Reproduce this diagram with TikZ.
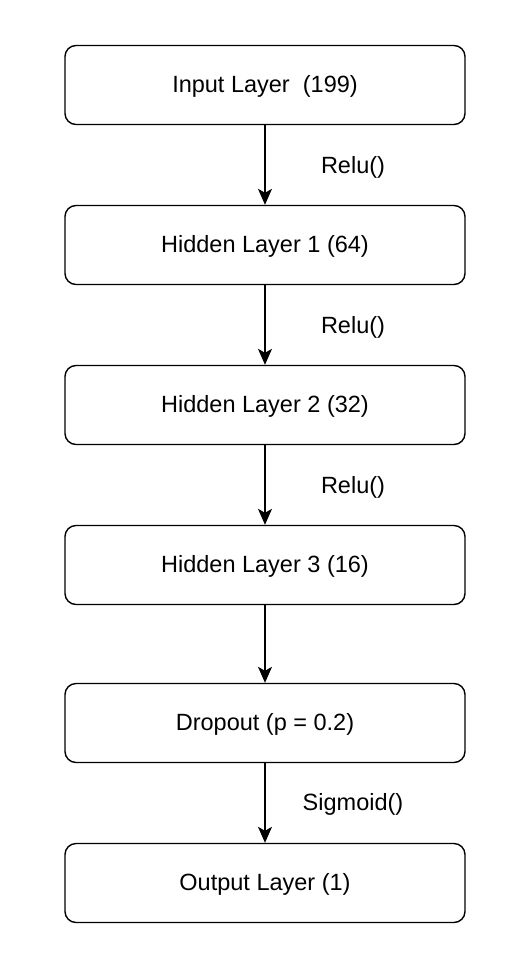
\documentclass[tikz,border=0pt]{standalone}
\usepackage{fontspec}
\setmainfont{Liberation Sans}
\usetikzlibrary{arrows.meta}
\begin{document}
\begin{tikzpicture}[x=1pt,y=-1pt,
  layerbox/.style={draw=black, line width=1.4pt, rounded corners=11pt, minimum width=400pt, minimum height=79pt, inner sep=0pt, fill=white},
  txt/.style={font=\fontsize{23.5}{28}\selectfont, inner sep=0pt},
  flow/.style={draw=black, line width=1.4pt, -{Stealth[length=16pt, width=14pt, inset=4pt]}},
  actlabel/.style={font=\fontsize{23.5}{28}\selectfont, inner sep=0pt}]
\useasboundingbox[fill=white] (0,0) rectangle (530,970);
\node[layerbox] (in) at (265,85) {};
\node[layerbox] (h1) at (265,245) {};
\node[layerbox] (h2) at (265,405) {};
\node[layerbox] (h3) at (265,565) {};
\node[layerbox] (dr) at (265,723) {};
\node[layerbox] (out) at (265,883) {};
\node[txt] (tin) at (265,86) {Input Layer\ \ (199)};
\node[txt] (th1) at (265,246) {Hidden Layer 1 (64)};
\node[txt] (th2) at (265,406) {Hidden Layer 2 (32)};
\node[txt] (th3) at (265,566) {Hidden Layer 3 (16)};
\node[txt] (tdr) at (265,724) {Dropout (p = 0.2)};
\node[txt] (tout) at (265,884) {Output Layer (1)};
\draw[flow] (in) -- (h1);
\draw[flow] (h1) -- (h2);
\draw[flow] (h2) -- (h3);
\draw[flow] (h3) -- (dr);
\draw[flow] (dr) -- (out);
\node[actlabel] (r1) at (353,167) {Relu()};
\node[actlabel] (r2) at (353,327) {Relu()};
\node[actlabel] (r3) at (353,487) {Relu()};
\node[actlabel] (sg) at (353,804) {Sigmoid()};
\end{tikzpicture}
\end{document}
